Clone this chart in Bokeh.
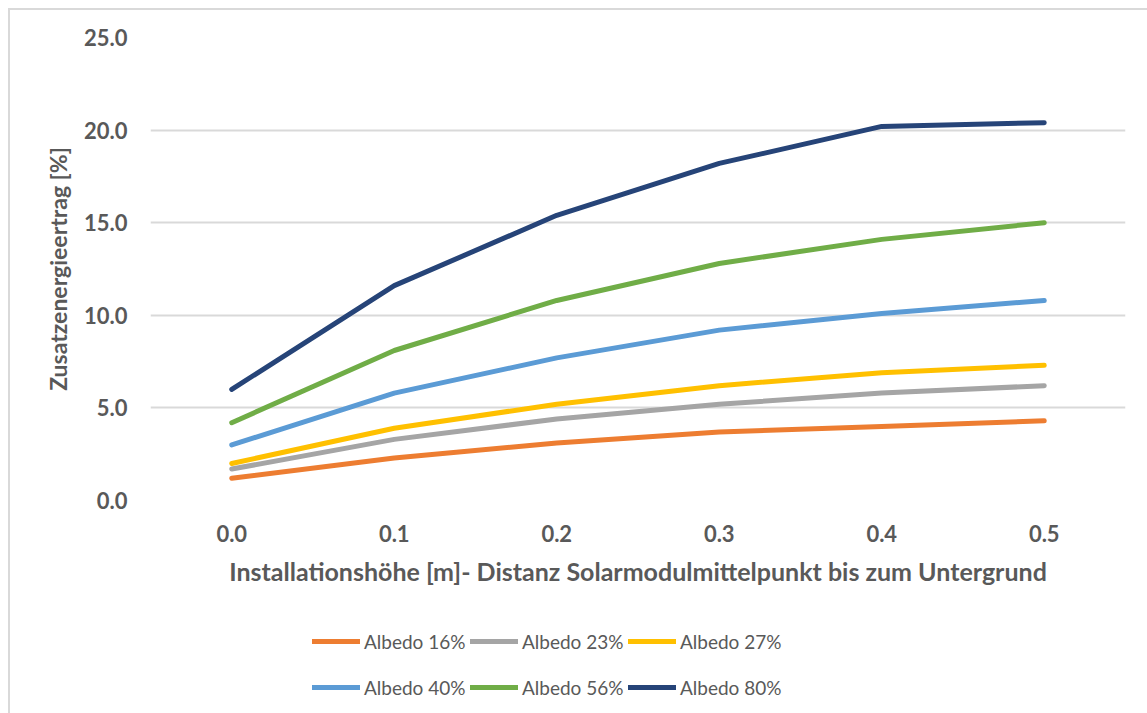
from bokeh.plotting import figure
from bokeh.layouts import column
from bokeh.models import (FactorRange, Range1d, Legend, LegendItem,
                          FixedTicker, CustomJSTickFormatter)
from bokeh.embed import file_html
from bokeh.resources import INLINE

# Installation heights (m) along the x axis
heights = ["0.0", "0.1", "0.2", "0.3", "0.4", "0.5"]

# Additional energy yield (%) per albedo
albedo_16 = [1.2, 2.3, 3.1, 3.7, 4.0, 4.3]
albedo_23 = [1.7, 3.3, 4.4, 5.2, 5.8, 6.2]
albedo_27 = [2.0, 3.9, 5.2, 6.2, 6.9, 7.3]
albedo_40 = [3.0, 5.8, 7.7, 9.2, 10.1, 10.8]
albedo_56 = [4.2, 8.1, 10.8, 12.8, 14.1, 15.0]
albedo_80 = [6.0, 11.6, 15.4, 18.2, 20.2, 20.4]

series_names = ["Albedo 16%", "Albedo 23%", "Albedo 27%",
                "Albedo 40%", "Albedo 56%", "Albedo 80%"]
series_values = [albedo_16, albedo_23, albedo_27, albedo_40, albedo_56, albedo_80]
series_colors = ["#ED7D31", "#A5A5A5", "#FFC000", "#5B9BD5", "#70AD47", "#264478"]

y_ticks = [0, 5, 10, 15, 20, 25]

FONT = "Lato"
TEXT = "#595959"
W = 1137
LEFT, RIGHT = 140, 22

# ---- main chart ---------------------------------------------------------
p = figure(
    width=W, height=590,
    x_range=FactorRange(*heights, range_padding=0),
    y_range=Range1d(0, 25),
    output_backend="svg", toolbar_location=None,
    min_border_left=LEFT, min_border_right=RIGHT,
    min_border_top=27, min_border_bottom=100,
)
p.outline_line_color = None
p.background_fill_color = "white"
p.border_fill_color = "white"

p.xgrid.grid_line_color = None
p.ygrid.grid_line_color = "#D9D9D9"
p.ygrid.grid_line_width = 2

p.yaxis.ticker = FixedTicker(ticks=y_ticks)
p.yaxis.formatter = CustomJSTickFormatter(code="return tick.toFixed(1);")
p.yaxis.axis_line_color = None
p.yaxis.major_tick_line_color = None
p.yaxis.minor_tick_line_color = None
p.yaxis.major_label_text_font = FONT
p.yaxis.major_label_text_font_style = "bold"
p.yaxis.major_label_text_font_size = "22px"
p.yaxis.major_label_text_color = TEXT
p.yaxis.major_label_standoff = 17
p.yaxis.axis_label = "Zusatzenergieertrag [%]"
p.yaxis.axis_label_text_font = FONT
p.yaxis.axis_label_text_font_style = "bold"
p.yaxis.axis_label_text_font_size = "23px"
p.yaxis.axis_label_text_color = TEXT
p.yaxis.axis_label_standoff = 9

p.xaxis.axis_line_color = None
p.xaxis.major_tick_line_color = None
p.xaxis.minor_tick_line_color = None
p.xaxis.major_label_text_font = FONT
p.xaxis.major_label_text_font_style = "bold"
p.xaxis.major_label_text_font_size = "22px"
p.xaxis.major_label_text_color = TEXT
p.xaxis.major_label_standoff = 18
p.xaxis.axis_label = "Installationshöhe [m]- Distanz Solarmodulmittelpunkt bis zum Untergrund"
p.xaxis.axis_label_text_font = FONT
p.xaxis.axis_label_text_font_style = "bold"
p.xaxis.axis_label_text_font_size = "25px"
p.xaxis.axis_label_text_color = TEXT
p.xaxis.axis_label_standoff = 11

for vals, color in zip(series_values, series_colors):
    p.line(heights, vals, line_color=color, line_width=5,
           line_cap="round", line_join="round")

# ---- legend strip underneath ---------------------------------------------
# The strip's y window lies above the data, so the series drawn here only
# serve as legend swatches and stay out of view.
leg = figure(
    width=W, height=113,
    x_range=FactorRange(*heights, range_padding=0), y_range=Range1d(100, 101),
    x_axis_type=None, y_axis_type=None,
    output_backend="svg", toolbar_location=None,
    min_border_left=LEFT, min_border_right=RIGHT,
    min_border_top=0, min_border_bottom=0,
)
leg.outline_line_color = None
leg.background_fill_color = "white"
leg.border_fill_color = "white"
leg.xgrid.grid_line_color = None
leg.ygrid.grid_line_color = None

swatches = [leg.line(heights, vals, line_color=c, line_width=5, line_cap="round")
            for vals, c in zip(series_values, series_colors)]


def legend_row(idx, loc):
    return Legend(
        items=[LegendItem(label=series_names[i], renderers=[swatches[i]]) for i in idx],
        orientation="horizontal", location=loc,
        glyph_width=48, glyph_height=24, label_standoff=4, spacing=0,
        label_width=106, padding=0, margin=0,
        border_line_color=None, background_fill_alpha=0,
        label_text_font=FONT, label_text_font_size="19px", label_text_color=TEXT,
    )


leg.add_layout(legend_row([0, 1, 2], (162, 60)), "center")
leg.add_layout(legend_row([3, 4, 5], (162, 14)), "center")

layout = column(p, leg, spacing=0,
                styles={"margin-left": "8px", "margin-top": "8px",
                        "border-left": "2px solid #D9D9D9",
                        "border-top": "2px solid #D9D9D9"})

open("out.html", "w").write(file_html(layout, INLINE))
